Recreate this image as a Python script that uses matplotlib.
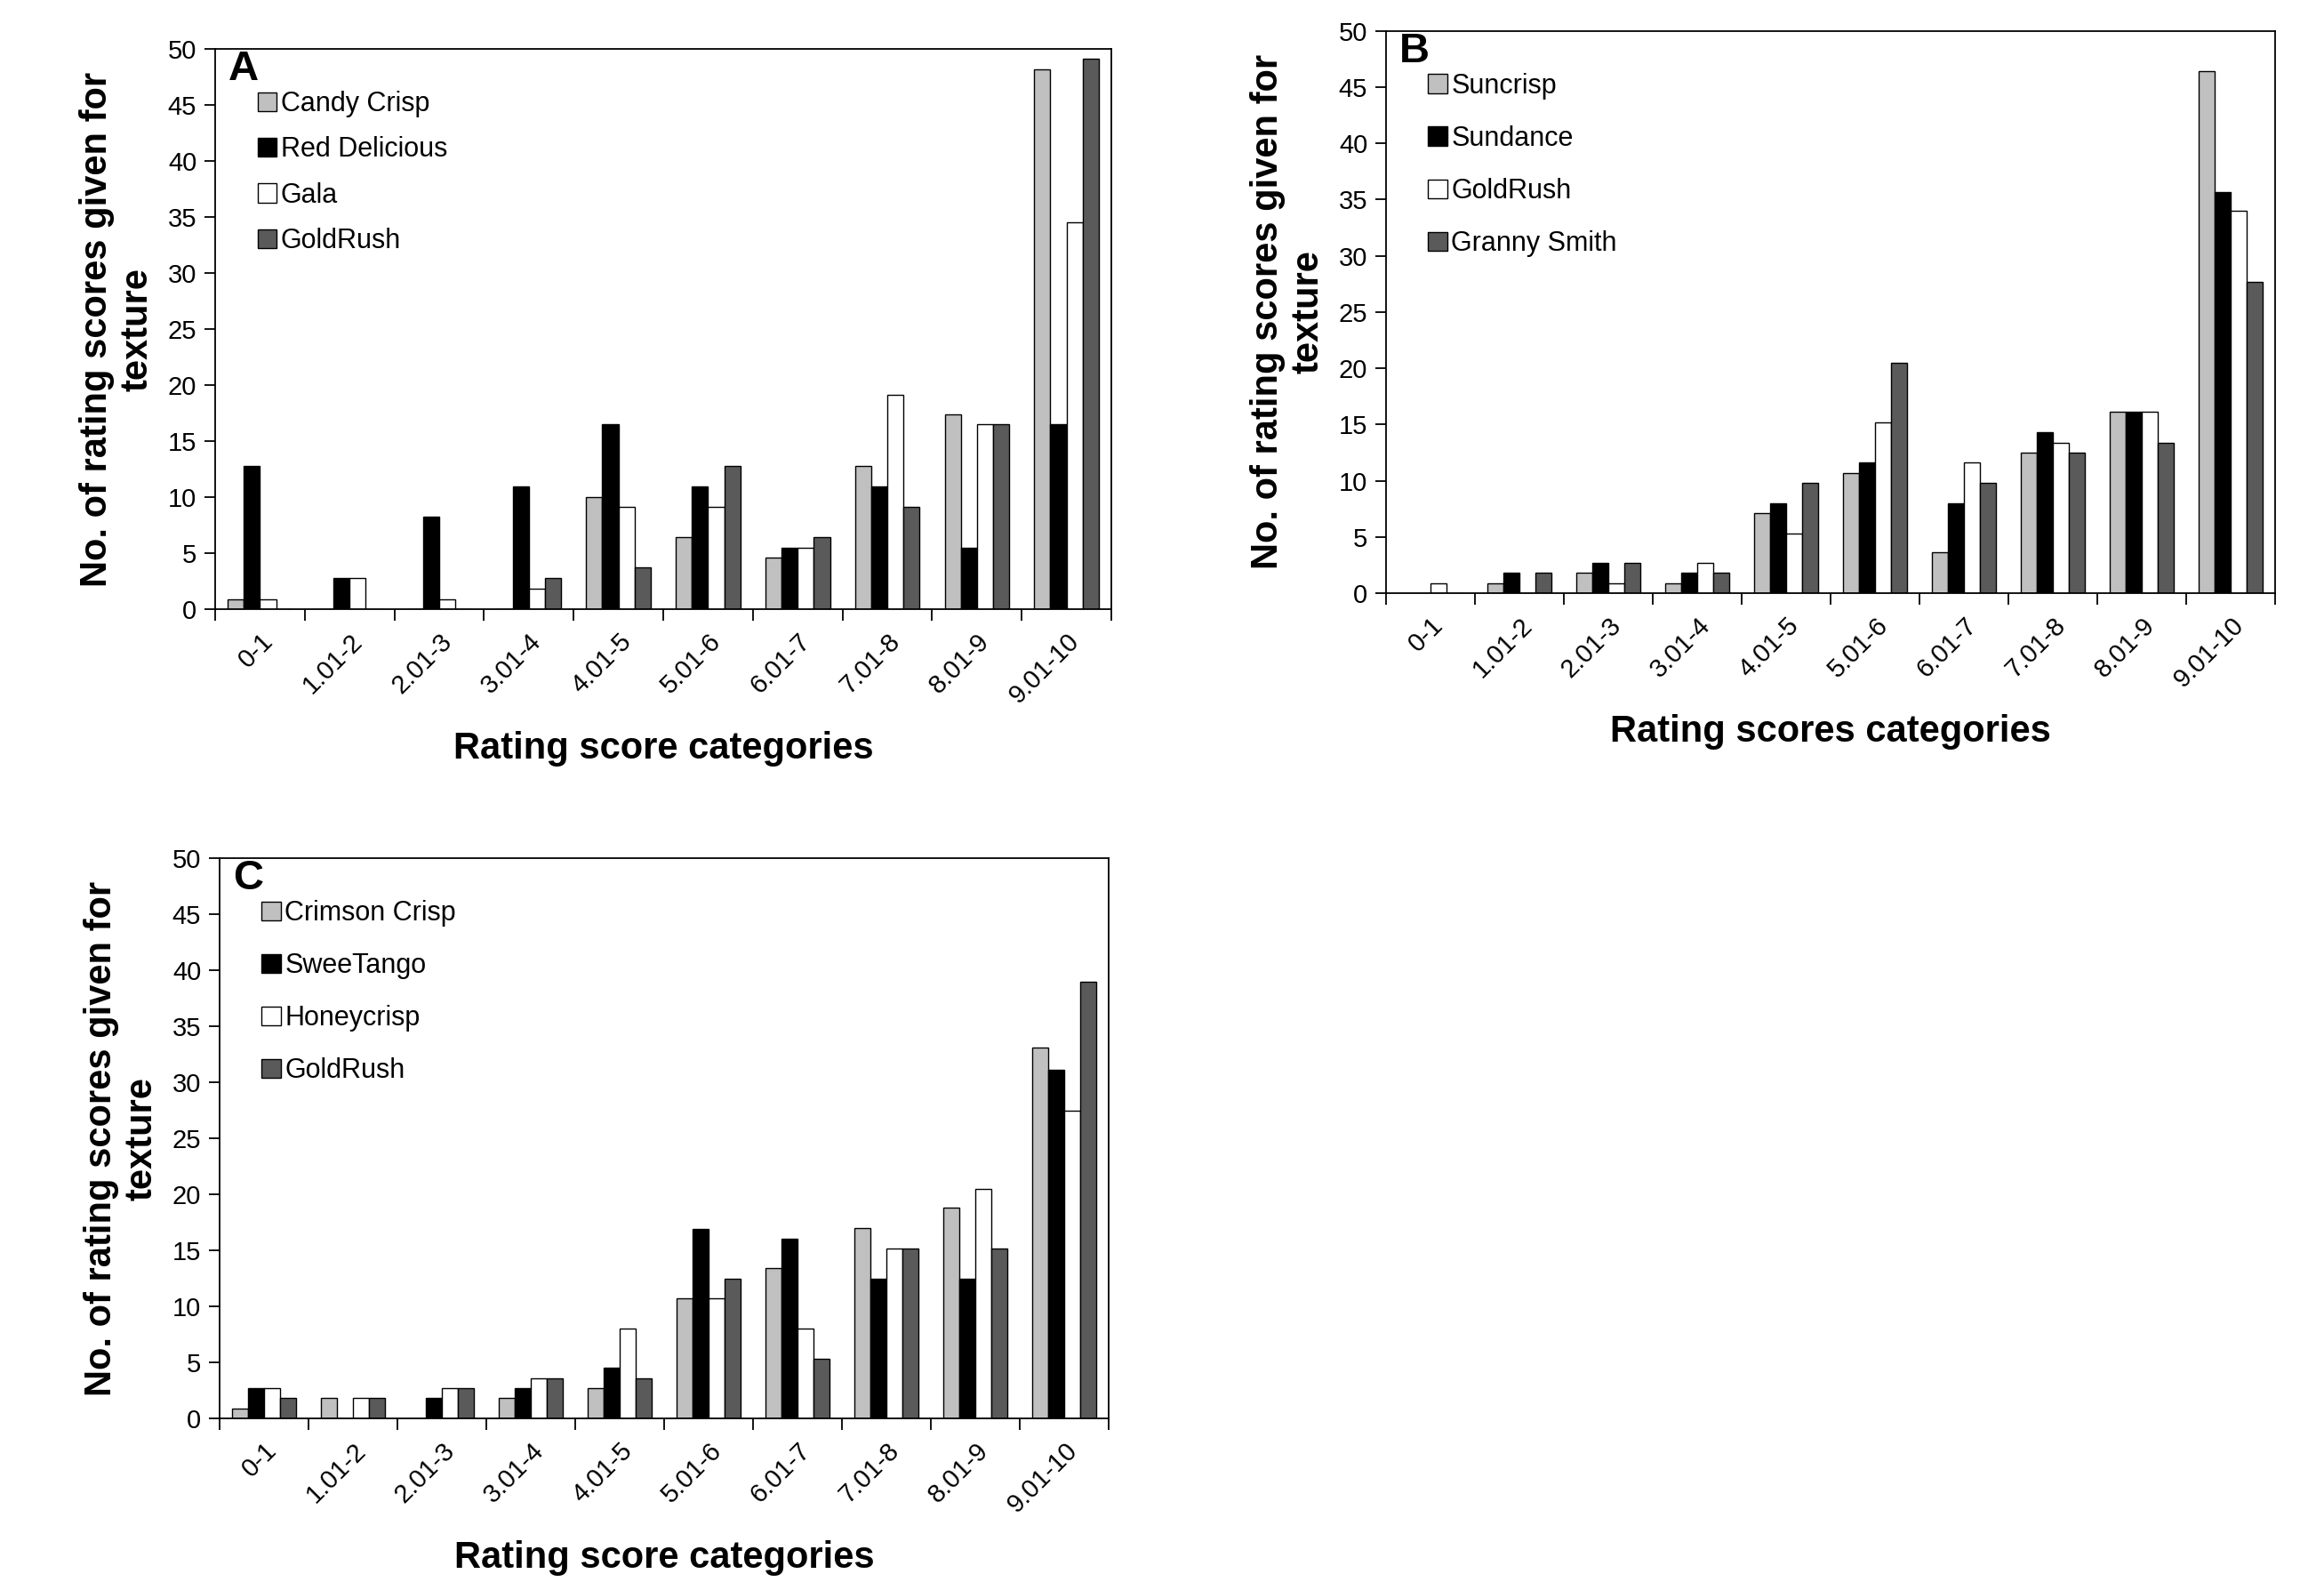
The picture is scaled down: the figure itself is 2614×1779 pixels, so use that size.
"""
Texture rating score distributions for three groups of apple cultivars (panels A, B, C).
"""
import numpy as np
import matplotlib
matplotlib.use("Agg")
import matplotlib.pyplot as plt

plt.rcParams["font.family"] = ["Liberation Sans", "DejaVu Sans"]

LIGHT = "#c0c0c0"
BLACK = "#000000"
WHITE = "#ffffff"
DARK  = "#5a5a5a"
COLORS = [LIGHT, BLACK, WHITE, DARK]

# ── Data
categories = ["0-1", "1.01-2", "2.01-3", "3.01-4", "4.01-5",
              "5.01-6", "6.01-7", "7.01-8", "8.01-9", "9.01-10"]

names_a = ["Candy Crisp", "Red Delicious", "Gala", "GoldRush"]
candy_crisp   = [0.9, 0, 0, 0, 10.0, 6.4, 4.6, 12.8, 17.4, 48.2]
red_delicious = [12.8, 2.8, 8.3, 11.0, 16.5, 11.0, 5.5, 11.0, 5.5, 16.5]
gala          = [0.9, 2.8, 0.9, 1.8, 9.1, 9.1, 5.5, 19.1, 16.5, 34.5]
goldrush_a    = [0, 0, 0, 2.8, 3.7, 12.8, 6.4, 9.1, 16.5, 49.1]

names_b = ["Suncrisp", "Sundance", "GoldRush", "Granny Smith"]
suncrisp      = [0, 0.9, 1.8, 0.9, 7.1, 10.7, 3.6, 12.5, 16.1, 46.4]
sundance      = [0, 1.8, 2.7, 1.8, 8.0, 11.6, 8.0, 14.3, 16.1, 35.7]
goldrush_b    = [0.9, 0, 0.9, 2.7, 5.3, 15.2, 11.6, 13.4, 16.1, 34.0]
granny_smith  = [0, 1.8, 2.7, 1.8, 9.8, 20.5, 9.8, 12.5, 13.4, 27.7]

names_c = ["Crimson Crisp", "SweeTango", "Honeycrisp", "GoldRush"]
crimson_crisp = [0.9, 1.8, 0, 1.8, 2.7, 10.7, 13.4, 17.0, 18.8, 33.1]
sweetango     = [2.7, 0, 1.8, 2.7, 4.5, 16.9, 16.0, 12.5, 12.5, 31.1]
honeycrisp    = [2.7, 1.8, 2.7, 3.6, 8.0, 10.7, 8.0, 15.2, 20.5, 27.5]
goldrush_c    = [1.8, 1.8, 2.7, 3.6, 3.6, 12.5, 5.3, 15.2, 15.2, 39.0]

YLABEL = "No. of rating scores given for\ntexture"
BAR_W = 0.18


# ── One panel
def draw_panel(ax, letter, names, series, xlabel, legend_gap):
    x = np.arange(len(categories)) + 0.5
    for i, (name, vals) in enumerate(zip(names, series)):
        ax.bar(x + (i - 1.5) * BAR_W, vals, width=BAR_W, color=COLORS[i],
               edgecolor="black", linewidth=1.0, label=name)

    ax.set_xlim(0, len(categories))
    ax.set_ylim(0, 50)
    ax.set_yticks(np.arange(0, 51, 5))
    ax.set_xticks(np.arange(0, len(categories) + 1))
    ax.set_xticklabels([])
    ax.set_xticks(x, minor=True)
    ax.set_xticklabels(categories, minor=True, rotation=45, ha="right",
                       rotation_mode="anchor", fontsize=21)
    ax.tick_params(axis="x", which="minor", length=0, pad=16)
    ax.tick_params(axis="x", which="major", length=9, width=1.3, direction="out")
    ax.tick_params(axis="y", length=9, width=1.3, direction="out", labelsize=21, pad=6)
    for s in ax.spines.values():
        s.set_linewidth(1.3)

    ax.set_ylabel(YLABEL, fontsize=30, fontweight="bold", linespacing=1.2, labelpad=10)
    ax.set_xlabel(xlabel, fontsize=30, fontweight="bold", labelpad=18)
    ax.text(0.015, 0.998, letter, transform=ax.transAxes, fontsize=34,
            fontweight="bold", va="top", ha="left")
    ax.legend(loc="upper left", bbox_to_anchor=(0.035, 0.945), frameon=False,
              fontsize=22, handlelength=0.7, handleheight=0.7,
              handletextpad=0.15, labelspacing=legend_gap, borderaxespad=0)


if __name__ == "__main__":
    fig = plt.figure(figsize=(26.14, 17.79), dpi=100)
    ax_a = fig.add_axes([0.0926, 0.6149, 0.3856, 0.3541])
    ax_b = fig.add_axes([0.5964, 0.6251, 0.3826, 0.3553])
    ax_c = fig.add_axes([0.0945, 0.1034, 0.3826, 0.3541])

    draw_panel(ax_a, "A", names_a, [candy_crisp, red_delicious, gala, goldrush_a],
               "Rating score categories", 0.7)
    draw_panel(ax_b, "B", names_b, [suncrisp, sundance, goldrush_b, granny_smith],
               "Rating scores categories", 0.95)
    draw_panel(ax_c, "C", names_c, [crimson_crisp, sweetango, honeycrisp, goldrush_c],
               "Rating score categories", 0.95)

    fig.savefig("out.png", dpi=100)
    plt.close(fig)
